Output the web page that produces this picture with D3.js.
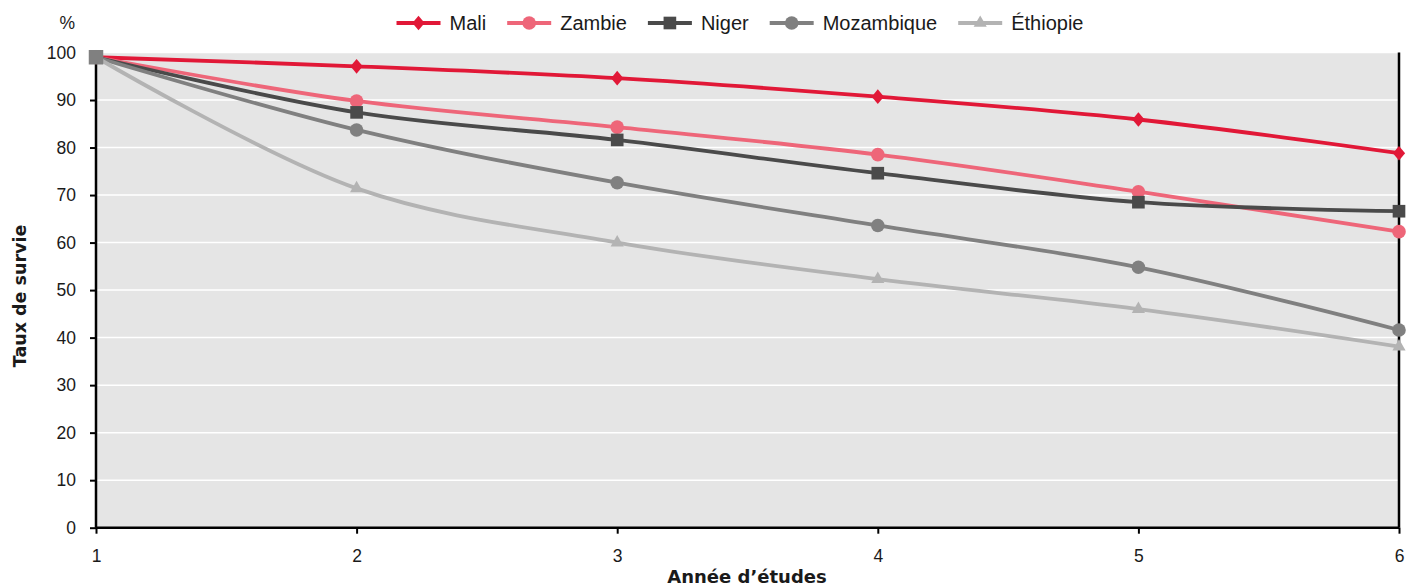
<!DOCTYPE html>
<html><head><meta charset="utf-8">
<script src="https://cdn.jsdelivr.net/npm/d3@7"></script>
<style>body{margin:0;background:#fff}svg{display:block}text{font-family:"Liberation Sans",Arial,sans-serif;fill:#1a1a1a}</style>
</head><body><svg id="c" width="1415" height="588"></svg>
<script>
const years = [1, 2, 3, 4, 5, 6];
const yTicks = [0, 10, 20, 30, 40, 50, 60, 70, 80, 90, 100];
const mali = [99, 97.1, 94.6, 90.7, 85.9, 78.8];
const zambie = [99, 89.8, 84.3, 78.5, 70.7, 62.3];
const niger = [99, 87.4, 81.6, 74.6, 68.5, 66.6];
const mozambique = [99, 83.7, 72.6, 63.6, 54.8, 41.6];
const ethiopie = [99, 71.4, 60.0, 52.3, 46.0, 38.1];
const seriesNames = ["Mali", "Zambie", "Niger", "Mozambique", "Éthiopie"];
const seriesValues = [mali, zambie, niger, mozambique, ethiopie];
const colors = ["#e11837", "#ee6679", "#4a4a4a", "#808080", "#b3b3b3"];

const diamond = {draw(ctx, size) { const w = Math.sqrt(size) * 0.5, h = w * 1.2;
  ctx.moveTo(0, -h); ctx.lineTo(w, 0); ctx.lineTo(0, h); ctx.lineTo(-w, 0); ctx.closePath(); }};
const shapes = [diamond, d3.symbolCircle, d3.symbolSquare, d3.symbolCircle, d3.symbolTriangle];
const symSizes = [150, 145, 160, 145, 75];

const svg = d3.select("#c");
const m = {l: 96, r: 1399, t: 52.5, b: 527.7};
const x = d3.scaleLinear().domain([1, 6]).range([m.l, m.r]);
const y = d3.scaleLinear().domain([0, 100]).range([m.b, m.t]);

svg.append("rect").attr("x", m.l).attr("y", m.t).attr("width", m.r - m.l + 1).attr("height", m.b - m.t).attr("fill", "#e5e5e5");
svg.append("g").selectAll("line").data(yTicks.filter(d => d > 0)).join("line")
  .attr("x1", m.l).attr("x2", m.r).attr("y1", d => y(d)).attr("y2", d => y(d))
  .attr("stroke", "#fff").attr("stroke-width", 1.5);

const yAxis = svg.append("g").attr("transform", `translate(${m.l},0)`)
  .call(d3.axisLeft(y).tickValues(yTicks).tickSize(6).tickPadding(14));
yAxis.select(".domain").attr("stroke", "#000").attr("stroke-width", 2.5).attr("d", `M0,${m.b}V${y(100)}`);
yAxis.selectAll(".tick line").attr("stroke", "#000").attr("stroke-width", 2);
yAxis.selectAll("text").attr("font-size", 17.5).attr("fill", "#1a1a1a");

const xAxis = svg.append("g").attr("transform", `translate(0,${m.b})`)
  .call(d3.axisBottom(x).tickValues(years).tickFormat(d3.format("d")).tickSize(6).tickPadding(16));
xAxis.select(".domain").attr("stroke", "#000").attr("stroke-width", 2.5).attr("d", `M${m.l},0H${m.r}`);
xAxis.selectAll(".tick line").attr("stroke", "#000").attr("stroke-width", 2);
xAxis.selectAll("text").attr("font-size", 17.5).attr("fill", "#1a1a1a");

svg.append("line").attr("x1", m.r).attr("x2", m.r).attr("y1", m.t).attr("y2", m.b).attr("stroke", "#000").attr("stroke-width", 2.5);

const line = d3.line().x((d, i) => x(years[i])).y(d => y(d)).curve(d3.curveCatmullRom.alpha(0.5));
const g = svg.append("g");
seriesValues.forEach((vals, k) => {
  g.append("path").attr("d", line(vals)).attr("fill", "none").attr("stroke", colors[k]).attr("stroke-width", 3.8);
});
seriesValues.forEach((vals, k) => {
  g.append("g").selectAll("path").data(vals).join("path")
    .attr("transform", (d, i) => `translate(${x(years[i])},${y(d)})`)
    .attr("d", d3.symbol(shapes[k], symSizes[k])).attr("fill", colors[k]);
});
// first point: gray square marker on top, as in the reference
svg.append("path").attr("transform", `translate(${x(years[0])},${y(ethiopie[0])})`)
  .attr("d", d3.symbol(d3.symbolSquare, 210)).attr("fill", "#808080");

svg.append("text").attr("x", 75).attr("y", 29).attr("text-anchor", "end").attr("font-size", 17.5).text("%");
svg.append("text").attr("transform", "translate(26,296) rotate(-90)").attr("text-anchor", "middle")
  .style("font-family", "'DejaVu Sans',sans-serif")
  .attr("font-size", 17.5).attr("font-weight", "bold").attr("fill", "#000").text("Taux de survie");
svg.append("text").attr("x", 747).attr("y", 583).attr("text-anchor", "middle")
  .style("font-family", "'DejaVu Sans',sans-serif")
  .attr("font-size", 18).attr("font-weight", "bold").attr("fill", "#000").text("Année d’études");

// legend
const leg = svg.append("g");
let cx = 0;
seriesNames.forEach((n, k) => {
  const it = leg.append("g");
  it.append("line").attr("x1", 0).attr("x2", 44).attr("y1", 0).attr("y2", 0).attr("stroke", colors[k]).attr("stroke-width", 3.8);
  it.append("path").attr("transform", "translate(22,0)").attr("d", d3.symbol(shapes[k], symSizes[k])).attr("fill", colors[k]);
  const t = it.append("text").attr("x", 53).attr("y", 7).attr("font-size", 20).text(n);
  const w = 53 + t.node().getComputedTextLength();
  it.attr("transform", `translate(${cx},23)`);
  cx += w + 21;
});
const total = cx - 21;
leg.attr("transform", `translate(${740 - total / 2},0)`);
</script></body></html>
